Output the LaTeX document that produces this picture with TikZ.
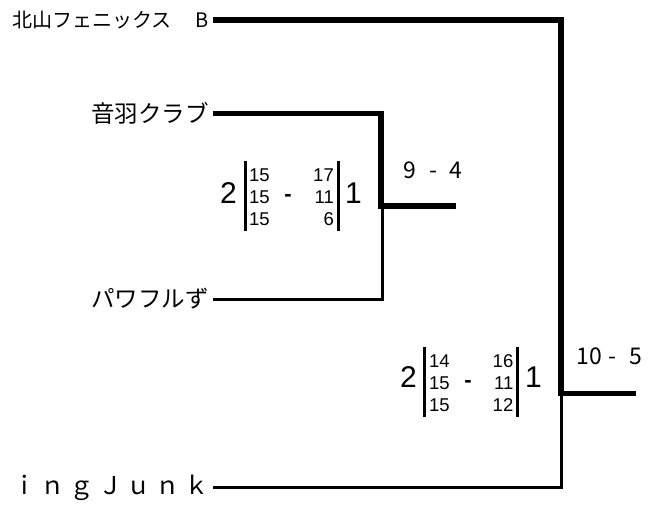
\documentclass[tikz,border=0pt]{standalone}
\usepackage{fontspec}
\setmainfont{Liberation Sans}
\newfontfamily\jp{Noto Sans CJK JP}
\newfontfamily\jpwide[LetterSpace=17]{Noto Sans CJK JP}
\begin{document}
\begin{tikzpicture}[x=1pt,y=-1pt,
  team/.style={anchor=east,inner xsep=4pt,inner ysep=0pt,font=\jp\fontsize{23.5}{23.5}\selectfont},
  win/.style={line width=5.5pt,line join=miter},
  lose/.style={line width=3pt,line join=miter},
  big/.style={font=\fontsize{30}{30}\selectfont,inner sep=0pt},
  colL/.style={anchor=west,align=left,inner sep=0pt,font=\fontsize{18.5}{22}\selectfont},
  colR/.style={anchor=east,align=right,inner sep=0pt,font=\fontsize{18.5}{22}\selectfont},
  minus/.style={font=\bfseries\fontsize{22}{22}\selectfont,inner sep=0pt},
  res/.style={font=\jp\fontsize{23}{23}\selectfont,inner sep=0pt},
  bar/.style={line width=3pt}]
\useasboundingbox (0,0) rectangle (660,506);

% teams
\node[team,font=\jp\fontsize{20}{20}\selectfont] (kita) at (213,20) {北山フェニックス\hspace{24pt}B};
\node[team] (otowa) at (213,113.5) {音羽クラブ};
\node[team] (pawa) at (213,299) {パワフルず};
\node[team,font=\jpwide\fontsize{24.5}{24.5}\selectfont] (ing) at (213,487.5) {ｉｎｇＪｕｎｋ};

% junctions
\coordinate (j1) at (381,113.5);
\coordinate (j1b) at (382.5,206);
\coordinate (w1) at (456,206);
\coordinate (j2) at (561,20);
\coordinate (j2b) at (561.5,393.5);
\coordinate (w2) at (636,393.5);

% bracket 1
\draw[lose] (pawa.east) -- (pawa.east -| j1b) -- (j1b);
\draw[win] (otowa.east) -- (j1) -- (j1 |- w1) -- (w1);
% bracket 2
\draw[lose] (ing.east) -- (ing.east -| j2b) -- (j2b);
\draw[win] (kita.east) -- (j2) -- (j2 |- w2) -- (w2);

% results
\node[res] (r1) at (433,170) {9\hspace{13pt}-\hspace{13pt}4};
\node[res] (r2) at (609.5,356) {10\hspace{6pt}-\hspace{13pt}5};

% score box 1
\node[big] (s1a) at (228.5,193) {2};
\draw[bar] (245,161) -- (245,231);
\draw[bar] (338.5,161) -- (338.5,231);
\node[colL] (s1l) at (249,197) {15\\15\\15};
\node[minus] (s1d) at (288,198) {-};
\node[colR] (s1r) at (334,197) {17\\11\\6};
\node[big] (s1b) at (353.5,193) {1};

% score box 2
\node[big] (s2a) at (408.5,377.5) {2};
\draw[bar] (424,347) -- (424,417);
\draw[bar] (517,347) -- (517,417);
\node[colL] (s2l) at (429,383) {14\\15\\15};
\node[minus] (s2d) at (468,384) {-};
\node[colR] (s2r) at (513.5,383) {16\\11\\12};
\node[big] (s2b) at (533.5,377.5) {1};
\end{tikzpicture}
\end{document}
